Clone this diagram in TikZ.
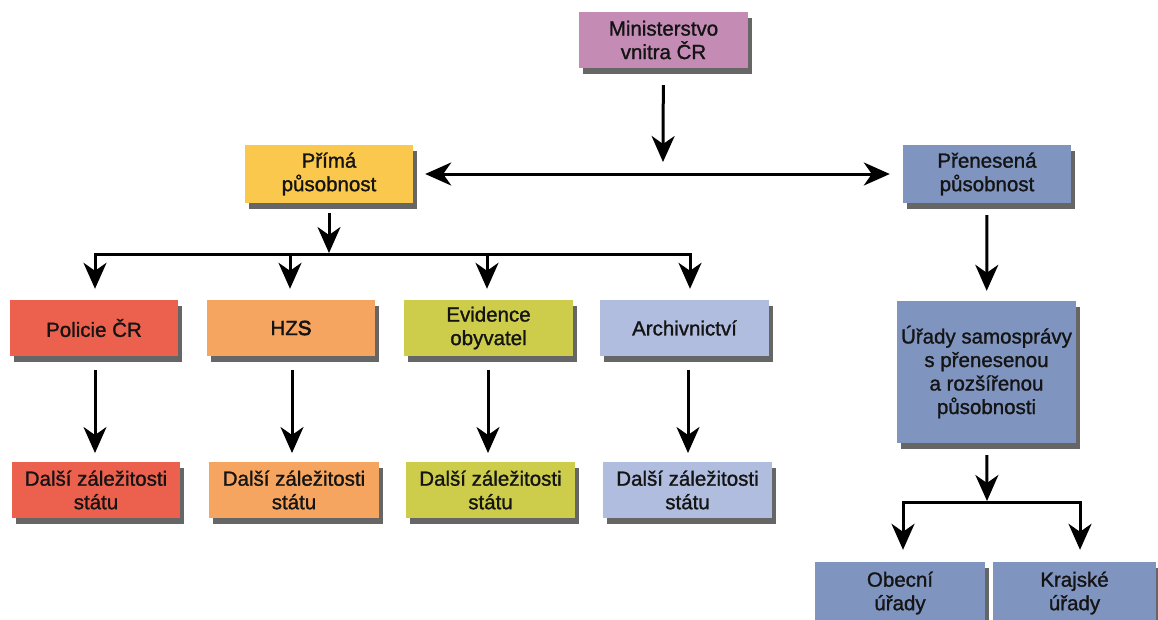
\documentclass[tikz,border=0pt]{standalone}
\usepackage{fontspec}
\setmainfont[FakeBold=1.2]{Liberation Sans}
\newfontfamily\boldsfont[FakeBold=3]{Liberation Sans}
\usetikzlibrary{shadows,arrows.meta,calc}
\definecolor{cMin}{RGB}{196,140,181}
\definecolor{cPrima}{RGB}{250,200,76}
\definecolor{cPren}{RGB}{127,148,190}
\definecolor{cPol}{RGB}{236,96,78}
\definecolor{cHzs}{RGB}{245,165,95}
\definecolor{cEvi}{RGB}{205,205,75}
\definecolor{cArch}{RGB}{176,189,222}
\definecolor{txt}{RGB}{20,20,20}
\tikzset{
  >={Stealth[length=26pt,width=23pt,inset=8pt]},
  box/.style={rectangle, inner sep=0pt, align=center, text=txt,
    font=\fontsize{20.5}{23.5}\selectfont,
    drop shadow={shadow xshift=4pt, shadow yshift=-6pt, opacity=0.8, fill=black!75}},
  arr/.style={draw=black, line width=3pt, ->},
  ln/.style={draw=black, line width=3pt},
}
\begin{document}
\begin{tikzpicture}[x=1pt,y=-1pt]
\useasboundingbox (0,0) rectangle (1158,619);
% top
\node[box, fill=cMin, minimum width=169pt, minimum height=56pt] (m) at (663.5,40) {Ministerstvo\\vnitra ČR};
\node[box, fill=cPrima, minimum width=168pt, minimum height=58pt] (p) at (329,174) {Přímá\\působnost};
\node[box, fill=cPren, minimum width=168pt, minimum height=58pt] (n) at (987,174) {Přenesená\\působnost};
% row 1
\node[box, fill=cPol, minimum width=168pt, minimum height=56pt] (a1) at (94,328) {Policie ČR};
\node[box, fill=cHzs, minimum width=168pt, minimum height=56pt] (a2) at (291,328) {HZ{\boldsfont S}};
\node[box, fill=cEvi, minimum width=169pt, minimum height=56pt] (a3) at (488.5,328) {Evidence\\obyvatel};
\node[box, fill=cArch, minimum width=169pt, minimum height=56pt] (a4) at (684.5,328) {Archivnictví};
% row 2
\node[box, fill=cPol, minimum width=168pt, minimum height=56pt] (b1) at (96,490) {Další záležitosti\\státu};
\node[box, fill=cHzs, minimum width=170pt, minimum height=56pt] (b2) at (294,490) {Další záležitosti\\státu};
\node[box, fill=cEvi, minimum width=169pt, minimum height=56pt] (b3) at (490.5,490) {Další záležitosti\\státu};
\node[box, fill=cArch, minimum width=169pt, minimum height=56pt] (b4) at (687.5,490) {Další záležitosti\\státu};
% right
\node[box, fill=cPren, minimum width=179pt, minimum height=142pt] (u) at (986.5,372) {Úřady samosprávy\\s přenesenou\\a rozšířenou\\působnosti};
\node[box, fill=cPren, minimum width=170pt, minimum height=62pt] (o) at (900,593) {Obecní\\úřady};
\node[box, fill=cPren, minimum width=163pt, minimum height=62pt] (k) at (1074.5,593) {Krajské\\úřady};
% coordinates
\coordinate (mid) at (663,162);
\coordinate (pj) at (329,253);
\coordinate (h1) at (95,254);
\coordinate (h2) at (290,254);
\coordinate (h3) at (487,254);
\coordinate (h4) at (690,254);
\coordinate (rj) at (987,501);
\coordinate (r1) at (903,502);
\coordinate (r2) at (1080,502);
% connectors
\draw[line width=3pt, <->, shorten <=12pt, shorten >=13pt] (p) -- (n);
\draw[arr, shorten <=17pt] (m) -- (mid);
\draw[arr, shorten <=10pt] (p) -- (pj);
\draw[ln, line cap=rect] (h1) -- (h4);
\draw[arr, shorten >=11pt] (h1) -- (h1 |- a1.north);
\draw[arr, shorten >=11pt] (h2) -- (h2 |- a2.north);
\draw[arr, shorten >=11pt] (h3) -- (h3 |- a3.north);
\draw[arr, shorten >=11pt] (h4) -- (h4 |- a4.north);
\draw[arr, shorten <=14pt, shorten >=9pt] (a1.south -| 95,0) -- (95,462);
\draw[arr, shorten <=14pt, shorten >=9pt] (a2.south -| 292,0) -- (292,462);
\draw[arr, shorten <=14pt, shorten >=9pt] (a3.south -| 488,0) -- (488,462);
\draw[arr, shorten <=14pt, shorten >=9pt] (a4.south -| 688,0) -- (688,462);
\draw[arr, shorten <=12pt, shorten >=10pt] (n) -- (u);
\draw[arr, shorten <=12pt] (u) -- (rj);
\draw[ln, line cap=rect] (r1) -- (r2);
\draw[arr, shorten >=12pt] (r1) -- (r1 |- o.north);
\draw[arr, shorten >=12pt] (r2) -- (r2 |- k.north);
\end{tikzpicture}
\end{document}
